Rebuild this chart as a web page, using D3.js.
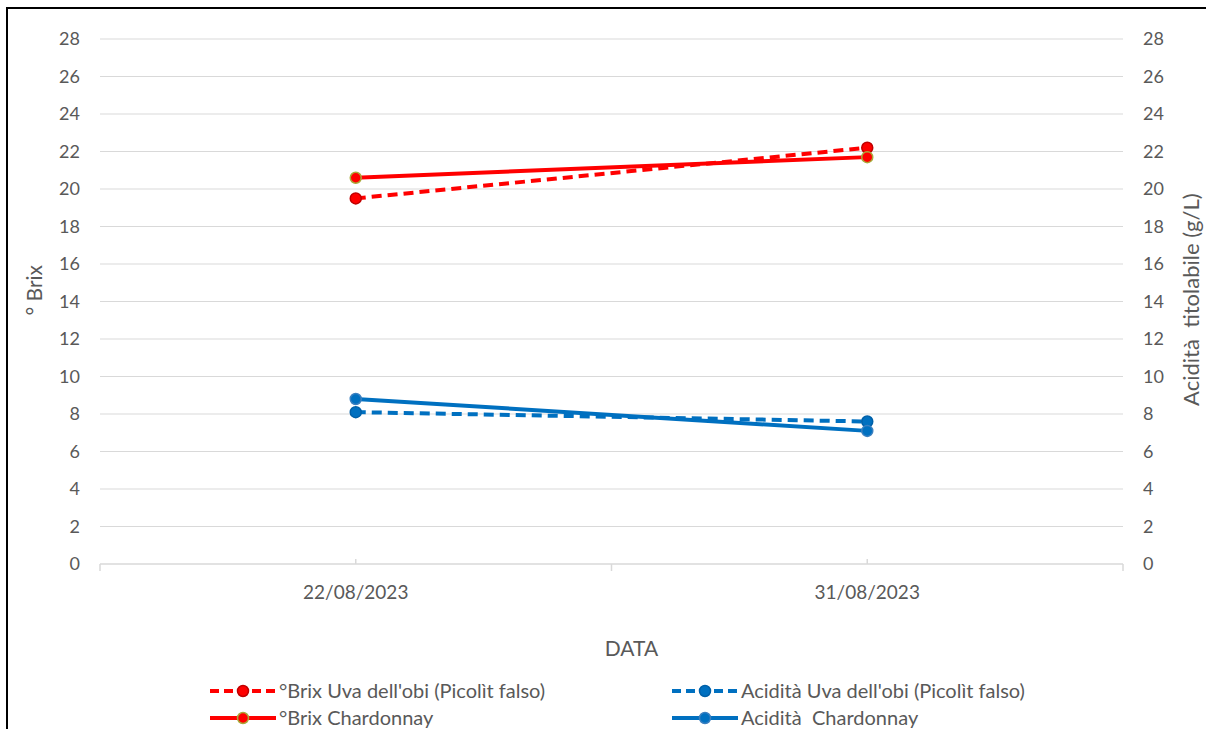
<!DOCTYPE html>
<html>
<head>
<meta charset="utf-8">
<script src="https://cdn.jsdelivr.net/npm/d3@7"></script>
<style>
  body { margin: 0; background: #fff; }
  svg { display: block; font-family: Lato, "Open Sans", sans-serif; }
  text { white-space: pre; }
</style>
</head>
<body>
<div class="chart"></div>
<script>
const dates = ["22/08/2023", "31/08/2023"];
const brixUva = [19.5, 22.2];
const brixChard = [20.6, 21.7];
const acidUva = [8.1, 7.6];
const acidChard = [8.8, 7.1];
const yTicks = [0, 2, 4, 6, 8, 10, 12, 14, 16, 18, 20, 22, 24, 26, 28];

const series = [
  { name: "°Brix Uva dell'obi (Picolìt falso)", values: brixUva, color: "#ff0000", stroke: "#c00000", dash: "10,6" },
  { name: "°Brix Chardonnay", values: brixChard, color: "#ff0000", stroke: "#a9a93a", dash: null },
  { name: "Acidità Uva dell'obi (Picolìt falso)", values: acidUva, color: "#0070c0", stroke: "#0060a8", dash: "10,6" },
  { name: "Acidità  Chardonnay", values: acidChard, color: "#0070c0", stroke: "#3a7fbf", dash: null }
];

const W = 1206, H = 729;
const margin = { top: 39, right: 83, bottom: 165, left: 100 },
      width = W - margin.left - margin.right,
      height = H - margin.top - margin.bottom;

const root = d3.select(".chart").append("svg")
  .attr("width", W)
  .attr("height", H);

// frame edges (left and top)
root.append("rect").attr("x", 6).attr("y", 7).attr("width", 2).attr("height", H - 7).attr("fill", "#000");
root.append("rect").attr("x", 6).attr("y", 7).attr("width", W - 6).attr("height", 2).attr("fill", "#000");

const svg = root.append("g")
  .attr("transform", "translate(" + margin.left + "," + margin.top + ")");

const x = d3.scaleBand().domain(dates).range([0, width]);
const y = d3.scaleLinear().domain([0, 28]).range([height, 0]);
const cx = (d) => x(d) + x.bandwidth() / 2;

// gridlines
svg.append("g")
  .selectAll("line")
  .data(yTicks.filter((t) => t > 0))
  .enter().append("line")
    .attr("x1", 0).attr("x2", width)
    .attr("y1", (d) => y(d)).attr("y2", (d) => y(d))
    .attr("stroke", "#d9d9d9").attr("stroke-width", 1);

// left axis
const left = svg.append("g").call(d3.axisLeft(y).tickValues(yTicks).tickSize(0).tickPadding(20));
left.select(".domain").remove();
left.selectAll("text").attr("font-size", 18).attr("fill", "#595959").attr("font-family", "Lato, sans-serif");

// right axis
const right = svg.append("g").attr("transform", "translate(" + width + ",0)")
  .call(d3.axisRight(y).tickValues(yTicks).tickSize(0).tickPadding(20));
right.select(".domain").remove();
right.selectAll("text").attr("font-size", 18).attr("fill", "#595959").attr("font-family", "Lato, sans-serif");

// bottom axis
svg.append("line")
  .attr("x1", 0).attr("x2", width).attr("y1", height).attr("y2", height)
  .attr("stroke", "#d9d9d9").attr("stroke-width", 1.5);
const bTicks = [0, x.bandwidth(), width];
svg.append("g").selectAll("line")
  .data(bTicks)
  .enter().append("line")
    .attr("x1", (d) => d).attr("x2", (d) => d)
    .attr("y1", height).attr("y2", height + 7)
    .attr("stroke", "#d9d9d9").attr("stroke-width", 1.5);
svg.append("g").selectAll("line")
  .data(dates)
  .enter().append("line")
    .attr("x1", cx).attr("x2", cx)
    .attr("y1", height - 5).attr("y2", height)
    .attr("stroke", "#d9d9d9").attr("stroke-width", 1.5);
svg.append("g").selectAll("text")
  .data(dates)
  .enter().append("text")
    .attr("x", cx).attr("y", height + 35)
    .attr("text-anchor", "middle")
    .attr("font-size", 19).attr("fill", "#595959")
    .text((d) => d);

// axis titles
svg.append("text")
  .attr("x", width / 2 + 20).attr("y", height + 92)
  .attr("text-anchor", "middle").attr("font-size", 21).attr("fill", "#595959")
  .text("DATA");
svg.append("text")
  .attr("transform", "translate(" + (-58) + "," + y(14.6) + ") rotate(-90)")
  .attr("text-anchor", "middle").attr("font-size", 21).attr("fill", "#595959")
  .text("° Brix");
svg.append("text")
  .attr("transform", "translate(" + (width + 76) + "," + y(14.1) + ") rotate(-90)")
  .attr("text-anchor", "middle").attr("font-size", 22).attr("fill", "#595959")
  .text("Acidità  titolabile (g/L)");

// lines
const line = d3.line()
  .x((d, i) => cx(dates[i]))
  .y((d) => y(d));

series.forEach((s) => {
  svg.append("path")
    .datum(s.values)
    .attr("fill", "none")
    .attr("stroke", s.color)
    .attr("stroke-width", 4)
    .attr("stroke-dasharray", s.dash)
    .attr("d", line);
  svg.append("g").selectAll("circle")
    .data(s.values)
    .enter().append("circle")
      .attr("cx", (d, i) => cx(dates[i]))
      .attr("cy", (d) => y(d))
      .attr("r", 5.5)
      .attr("fill", s.color)
      .attr("stroke", s.stroke)
      .attr("stroke-width", 1.5);
});

// legend: two columns, Brix on the left, Acidità on the right
const legendPos = [[210, 691], [210, 718], [672, 691], [672, 718]];
const legend = root.append("g").selectAll("g")
  .data(series)
  .enter().append("g")
    .attr("transform", (d, i) => "translate(" + legendPos[i][0] + "," + legendPos[i][1] + ")");
legend.append("line")
  .attr("x1", 0).attr("x2", 66).attr("y1", 0).attr("y2", 0)
  .attr("stroke", (d) => d.color).attr("stroke-width", 4)
  .attr("stroke-dasharray", (d) => d.dash ? "9,5" : null);
legend.append("circle")
  .attr("cx", 33).attr("cy", 0).attr("r", 5.5)
  .attr("fill", (d) => d.color).attr("stroke", (d) => d.stroke).attr("stroke-width", 1.5);
legend.append("text")
  .attr("x", 69).attr("y", 7)
  .attr("font-size", 20).attr("fill", "#595959")
  .text((d) => d.name);
</script>
</body>
</html>
